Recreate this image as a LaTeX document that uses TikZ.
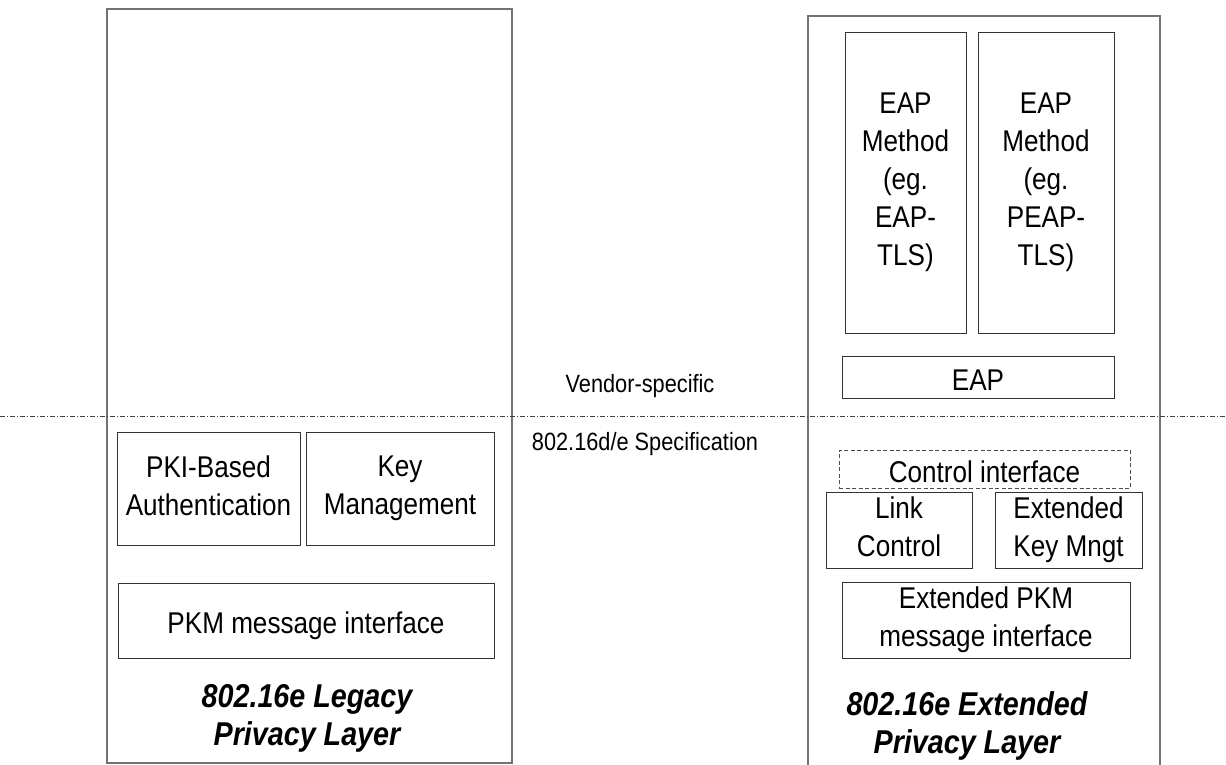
\documentclass[tikz,border=0pt]{standalone}
\usepackage{fontspec}
\setmainfont{Liberation Sans}[FakeStretch=0.87]
\newcommand\boxstrut{\rule[-6pt]{0pt}{38pt}}
\begin{document}
\begin{tikzpicture}[x=1pt,y=-1pt,
  outer/.style={draw=black!55, line width=1.3pt, rectangle, inner sep=0pt},
  blk/.style={draw=black!80, line width=0.9pt, rectangle, inner sep=0pt, align=center,
              font=\fontsize{30}{38}\selectfont,
              execute at begin node=\boxstrut, execute at end node=\boxstrut},
  dashblk/.style={blk, dash pattern=on 4pt off 2.5pt, draw=black!70},
  ttl/.style={align=center, inner sep=0pt, font=\fontsize{33}{38}\selectfont\bfseries\itshape},
  lbl/.style={inner sep=0pt, anchor=base, font=\fontsize{25}{28}\selectfont},
  divider/.style={draw=black!75, line width=0.8pt, dash pattern=on 5pt off 2pt on 1pt off 2pt}
]
\useasboundingbox (0,0) rectangle (1226,765);
\fill[white] (0,0) rectangle (1226,765);

% left: legacy privacy layer
\node[outer, minimum width=405pt, minimum height=754pt] (legacy) at (309.5,386) {};
\node[blk, minimum width=183pt, minimum height=113pt] (pki) at (208.5,488.5) {PKI-Based\\Authentication};
\node[blk, minimum width=188pt, minimum height=113pt] (keym) at (400,488.5) {Key\\Management};
\node[blk, minimum width=376pt, minimum height=75pt] (pkm) at (306,620.5) {PKM message interface};
\node[ttl] (ltitle) at (307,718) {802.16e Legacy\\Privacy Layer};

% right: extended privacy layer (open at bottom)
\coordinate (rbl) at (808,767);
\coordinate (rtl) at (808,16);
\coordinate (rtr) at (1160,16);
\coordinate (rbr) at (1160,767);
\draw[draw=black!55, line width=1.3pt] (rbl) -- (rtl) -- (rtr) -- (rbr);

\node[blk, minimum width=121pt, minimum height=301pt] (eap1) at (905.5,182.5) {EAP\\Method\\(eg.\\EAP-\\TLS)};
\node[blk, minimum width=136pt, minimum height=301pt] (eap2) at (1046,182.5) {EAP\\Method\\(eg.\\PEAP-\\TLS)};
\node[blk, minimum width=272pt, minimum height=42pt] (eap) at (978,377) {EAP};
\node[dashblk, minimum width=291pt, minimum height=36pt] (ctrl) at (984.5,469) {Control interface};
\node[blk, minimum width=146pt, minimum height=76pt] (link) at (899,530) {Link\\Control};
\node[blk, minimum width=147pt, minimum height=76pt] (ekm) at (1068.5,530) {Extended\\Key Mngt};
\node[blk, minimum width=288pt, minimum height=76pt] (epkm) at (986,620) {Extended PKM\\message interface};
\node[ttl] (rtitle) at (967,726) {802.16e Extended\\Privacy Layer};

% divider
\coordinate (dl) at (0,416);
\coordinate (dr) at (1226,416);
\draw[divider] (dl) -- (dr);
\node[lbl] (vendor) at (640,392) {Vendor-specific};
\node[lbl] (spec) at (645,450) {802.16d/e Specification};
\end{tikzpicture}
\end{document}
